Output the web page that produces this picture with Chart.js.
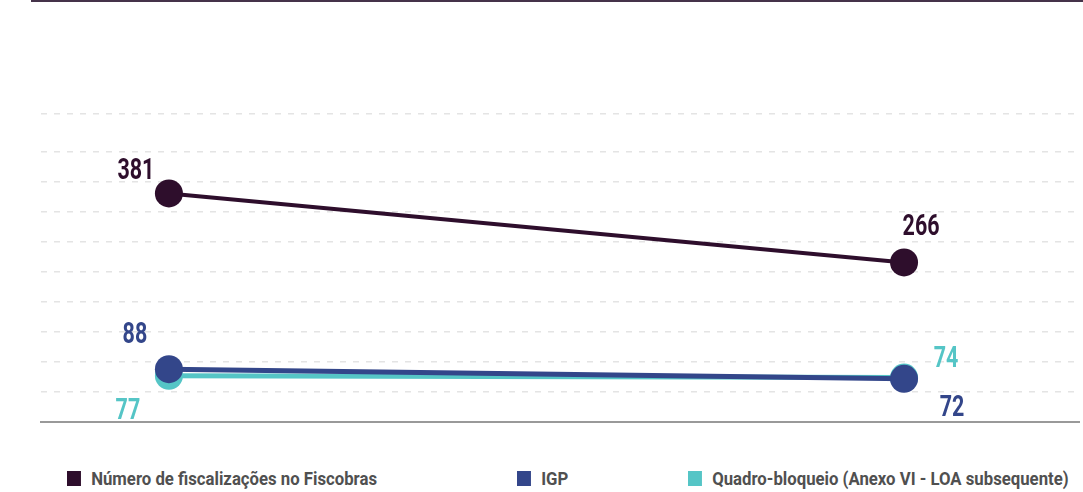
<!DOCTYPE html>
<html>
<head>
<meta charset="utf-8">
<script src="https://cdn.jsdelivr.net/npm/chart.js@4"></script>
<style>
  html, body { margin: 0; padding: 0; background: #fff; }
  #wrap { position: relative; width: 1083px; height: 492px; overflow: hidden; }
  #topline { position: absolute; left: 31px; top: 0; width: 1052px; height: 2px; background: #45334a; z-index: 2; }
  #chart { position: absolute; left: 0; top: -12px; }
  .leg { position: absolute; top: 468px; font: bold 18px "Roboto", sans-serif; color: #505050; white-space: nowrap; transform: scaleX(0.93); transform-origin: 0 50%; }
  .leg i { display: inline-block; width: 15px; height: 15px; margin-right: 11px; vertical-align: -1px; }
</style>
</head>
<body>
<div id="wrap">
  <div id="topline"></div>
  <canvas id="chart" width="1093" height="448"></canvas>
  <div id="legend"></div>
</div>
<script>
const periods = ['Ano 1', 'Ano 2'];
const fiscalizacoes = [381, 266];
const igp = [88, 72];
const quadroBloqueio = [77, 74];
const gridValues = [0, 50, 100, 150, 200, 250, 300, 350, 400, 450, 514];

const colors = ['#2e0e2c', '#33468a', '#55c5c6'];
const names = ['Número de fiscalizações no Fiscobras', 'IGP', 'Quadro-bloqueio (Anexo VI - LOA subsequente)'];
// label offsets from each point, per dataset
const labelOffsets = [
  [[-33, -22], [17, -35]],
  [[-34, -33], [48, 30]],
  [[-41, 36], [42, -18]]
];

function toPoints(values) {
  return values.map((v, i) => ({ x: i, y: v }));
}

// condensed-looking bold numbers next to each point
const valueLabels = {
  id: 'valueLabels',
  afterDatasetsDraw(chart) {
    const ctx = chart.ctx;
    chart.data.datasets.forEach((ds, di) => {
      const meta = chart.getDatasetMeta(di);
      meta.data.forEach((pt, i) => {
        const off = labelOffsets[di][i];
        ctx.save();
        ctx.translate(pt.x + off[0], pt.y + off[1]);
        ctx.scale(0.74, 1);
        ctx.font = 'bold 29px "Roboto", sans-serif';
        ctx.textAlign = 'center';
        ctx.textBaseline = 'middle';
        ctx.fillStyle = ds.borderColor;
        ctx.fillText(String(ds.data[i].y), 0, 0);
        ctx.restore();
      });
    });
  }
};

const series = [fiscalizacoes, igp, quadroBloqueio];

new Chart(document.getElementById('chart'), {
  type: 'line',
  data: {
    labels: periods,
    datasets: series.map((vals, i) => ({
      label: names[i],
      data: toPoints(vals),
      borderColor: colors[i],
      backgroundColor: colors[i],
      pointBackgroundColor: colors[i],
      pointBorderWidth: 0,
      pointRadius: 14,
      borderWidth: i === 0 ? 4 : 5,
      fill: false,
      tension: 0
    }))
  },
  options: {
    responsive: false,
    animation: false,
    layout: { padding: { left: 41, right: 5, top: 4, bottom: 10 } },
    plugins: {
      legend: { display: false },
      tooltip: { enabled: false }
    },
    scales: {
      x: {
        type: 'linear',
        min: -0.174,
        max: 1.238,
        ticks: { display: false },
        grid: { display: false, drawTicks: false },
        border: { display: true, color: '#999', width: 2 }
      },
      y: {
        min: 0,
        max: 700,
        afterBuildTicks(axis) {
          axis.ticks = gridValues.map(v => ({ value: v }));
        },
        ticks: { display: false },
        grid: { color: '#e4e4e4', lineWidth: 1.5, drawTicks: false },
        border: { display: false, dash: [6, 7] }
      }
    }
  },
  plugins: [valueLabels]
});

// legend
const legendLefts = [67, 517, 688];
const legend = document.getElementById('legend');
names.forEach((n, i) => {
  const d = document.createElement('div');
  d.className = 'leg';
  d.style.left = legendLefts[i] + 'px';
  d.innerHTML = '<i style="background:' + colors[i] + '"></i>' + n;
  legend.appendChild(d);
});
</script>
</body>
</html>
